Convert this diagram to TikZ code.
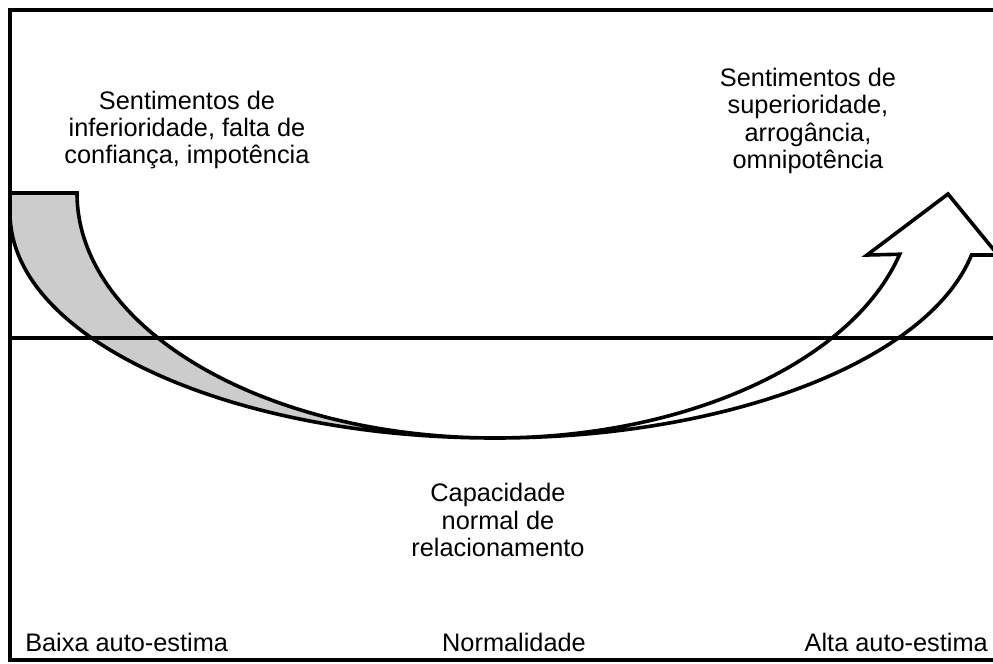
\documentclass[tikz,border=0pt]{standalone}
\usepackage{fontspec}
\setmainfont{Liberation Sans}
\begin{document}
\begin{tikzpicture}[x=0.75pt,y=0.75pt,
  line/.style={line width=2.7pt,line join=miter},
  txt/.style={align=center,font=\fontsize{19}{20.4}\selectfont,inner sep=0pt},
  lbl/.style={font=\fontsize{19}{20.4}\selectfont,inner sep=0pt}]
\useasboundingbox (0,0) rectangle (993,-664);
\clip (0,0) rectangle (993,-664);
% gray back band
\fill[black!20] (10,-193) -- (77,-193)
  arc[start angle=180,end angle=270,x radius=418,y radius=245]
  arc[start angle=270,end angle=180,x radius=485,y radius=225] -- cycle;
\draw[line] (10,-193) -- (77,-193)
  arc[start angle=180,end angle=270,x radius=418,y radius=245]
  arc[start angle=270,end angle=180,x radius=485,y radius=225];
% white arrow
\draw[line,fill=white] (495,-438)
  arc[start angle=270,end angle=345.52,x radius=418,y radius=245]
  -- (867,-255) -- (948,-194) -- (998,-255) -- (971.5,-255)
  arc[start angle=349.24,end angle=270,x radius=485,y radius=225] -- cycle;
% frame and axis
\draw[line] (1000,-10) -- (10,-10) -- (10,-660) -- (1000,-660);
\draw[line] (10,-338) -- (1000,-338);
% texts
\node[txt] (inf) at (187,-130) {Sentimentos de\\inferioridade, falta de\\confiança, impotência};
\node[txt] (sup) at (808,-121) {Sentimentos de\\superioridade,\\arrogância,\\omnipotência};
\node[txt] (cap) at (498,-520) {Capacidade\\normal de\\relacionamento};
\node[lbl,anchor=base west] (baixa) at (25,-651) {Baixa auto-estima};
\node[lbl,anchor=base] (norm) at (514,-651) {Normalidade};
\node[lbl,anchor=base east] (alta) at (988,-651) {Alta auto-estima};
\end{tikzpicture}
\end{document}
